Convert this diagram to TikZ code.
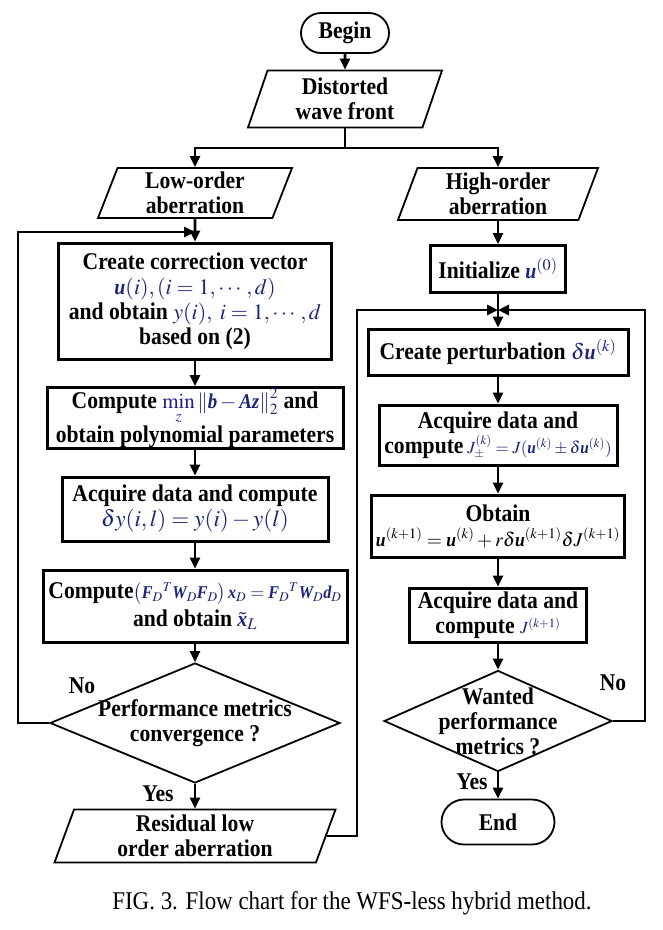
\documentclass[tikz,border=0pt]{standalone}
\usepackage{amsmath}
\usepackage{mathptmx}
\usepackage{fontspec}
\setmainfont{Liberation Serif}
\newfontfamily\tallfont{Liberation Serif}[FakeStretch=0.9]
\usepackage{xcolor}
\usetikzlibrary{arrows.meta,shapes.geometric,shapes.misc,positioning}

\definecolor{mathblue}{RGB}{28,36,120}
\newcommand{\bvec}[1]{\mbox{\bfseries\itshape #1}}
\newcommand{\mth}[1]{{\color{mathblue}$#1$}}

\begin{document}
\begin{tikzpicture}[x=1pt,y=-1pt]
% Define styles
\tikzstyle{base}=[font=\tallfont\fontsize{24}{25}\selectfont\bfseries, align=center]
\tikzstyle{term}=[base, rounded rectangle, draw, line width=1.8pt, inner sep=0pt]
\tikzstyle{io}=[base, trapezium, trapezium left angle=66, trapezium right angle=114, trapezium stretches body, draw, line width=1.8pt, inner sep=1pt]
\tikzstyle{proc}=[base, rectangle, draw, line width=3pt, inner sep=1pt]
\tikzstyle{test}=[diamond, draw, line width=1.8pt, inner sep=0pt]
\tikzstyle{inside}=[base, inner sep=0pt]
\tikzstyle{wire}=[line width=2.6pt]
\tikzstyle{arrow}=[wire, -{Triangle[length=11pt,width=10pt]}]

\useasboundingbox (0,0) rectangle (663,930);

% Start and input
\node[term, minimum width=88pt, minimum height=40pt] (begin) at (345,33) {Begin};
\node[io, minimum width=194pt, minimum height=57pt] (wave) at (345,99) {Distorted\\wave front};
\coordinate (fork) at (345,148);

% Two branches
\node[io, minimum width=194pt, minimum height=50pt] (low) at (195,193) {Low-order\\aberration};
\node[io, minimum width=200pt, minimum height=52pt] (high) at (498,194) {High-order\\aberration};

% Low-order loop
\node[proc, minimum width=273pt, minimum height=116pt] (create) at (195,301)
  {Create correction vector\\
   {\fontsize{22}{25}\selectfont\mth{\bvec{u}(i),(i=1,\cdots,d)}}\\
   and obtain {\fontsize{22}{25}\selectfont\mth{y(i),\ i=1,\cdots,d}}\\
   based on (2)};
\node[proc, minimum width=296pt, minimum height=61pt] (mincomp) at (195,418)
  {Compute {\fontsize{21}{25}\selectfont\mth{\min\limits_{z}\left\|\bvec{b}-\bvec{A}\bvec{z}\right\|_2^2}} and\\
   obtain polynomial parameters};
\node[proc, minimum width=266pt, minimum height=64pt] (acquire) at (195,509)
  {Acquire data and compute\\
   {\fontsize{23}{25}\selectfont\mth{\delta y(i,l)=y(i)-y(l)}}};
\node[proc, minimum width=304pt, minimum height=72pt] (solve) at (195,606)
  {Compute{\fontsize{18}{22}\selectfont\mth{\left(\bvec{F}_D{}^T\bvec{W}_D\bvec{F}_D\right)\bvec{x}_D=\bvec{F}_D{}^T\bvec{W}_D\bvec{d}_D}}\\[3pt]
   and obtain {\fontsize{22}{25}\selectfont\mth{\tilde{\bvec{x}}_L}}};
\node[test, minimum width=290pt, minimum height=120pt,
  label={[inside]center:Performance metrics\\convergence ?}] (conv) at (195,723) {};
\node[io, minimum width=281pt, minimum height=53pt] (residual) at (195,836) {Residual low\\order aberration};
\coordinate (loopL) at (18,232);
\coordinate (joinL) at (195,232);

% High-order loop
\node[proc, minimum width=135pt, minimum height=47pt] (init) at (498,269) {Initialize {\fontsize{22}{25}\selectfont\mth{\bvec{u}^{(0)}}}};
\node[proc, minimum width=260pt, minimum height=46pt] (perturb) at (498,352) {Create perturbation {\fontsize{22}{25}\selectfont\mth{\delta\bvec{u}^{(k)}}}};
\node[proc, minimum width=238pt, minimum height=60pt] (acqJ) at (498,435)
  {Acquire data and\\
   compute{\fontsize{17}{22}\selectfont\ \mth{J_{\pm}^{(k)}=J(\bvec{u}^{(k)}\pm\delta\bvec{u}^{(k)})}}};
\node[proc, minimum width=253pt, minimum height=62pt] (obtain) at (498,526)
  {Obtain\\
   {\fontsize{19.5}{22}\selectfont$\bvec{u}^{(k+1)}=\bvec{u}^{(k)}+r\delta\bvec{u}^{(k+1)}\delta J^{(k+1)}$}};
\node[proc, minimum width=177pt, minimum height=54pt] (acqJone) at (498,615)
  {Acquire data and\\
   compute {\fontsize{17}{22}\selectfont\mth{J^{(k+1)}}}};
\node[test, minimum width=228pt, minimum height=101pt,
  label={[inside]center:Wanted\\performance\\metrics ?}] (wanted) at (498,721) {};
\node[term, minimum width=113pt, minimum height=45pt] (end) at (498,822) {End};
\coordinate (loopA) at (357,310);
\coordinate (loopB) at (645,310);
\coordinate (joinR) at (498,310);

% Decision labels
\node[base] (noL) at (82,686) {No};
\node[base] (yesL) at (158,794) {Yes};
\node[base] (noR) at (613,683) {No};
\node[base] (yesR) at (472,782) {Yes};

% Connectors
\draw[arrow] (begin) -- (wave);
\draw[wire] (wave) -- (fork);
\draw[arrow] (fork) -| (low);
\draw[arrow] (fork) -| (high);
\draw[arrow] (low) -- (create);
\draw[arrow] (create) -- (mincomp);
\draw[arrow] (mincomp) -- (acquire);
\draw[arrow] (acquire) -- (solve);
\draw[arrow] (solve) -- (conv);
\draw[arrow] (conv) -- (residual);
\draw[arrow] (conv.west) -| (loopL) -- (joinL);
\draw[arrow] (high) -- (init);
\draw[arrow] (init) -- (perturb);
\draw[arrow] (perturb) -- (acqJ);
\draw[arrow] (acqJ) -- (obtain);
\draw[arrow] (obtain) -- (acqJone);
\draw[arrow] (acqJone) -- (wanted);
\draw[arrow] (wanted) -- (end);
\draw[arrow] (residual.east) -| (loopA) -- (joinR);
\draw[arrow] (wanted.east) -| (loopB) -- (joinR);

% Caption
\node[font=\tallfont\fontsize{25.5}{28}\selectfont] (caption) at (352,903) {FIG. 3. Flow chart for the WFS-less hybrid method.};

\end{tikzpicture}
\end{document}
